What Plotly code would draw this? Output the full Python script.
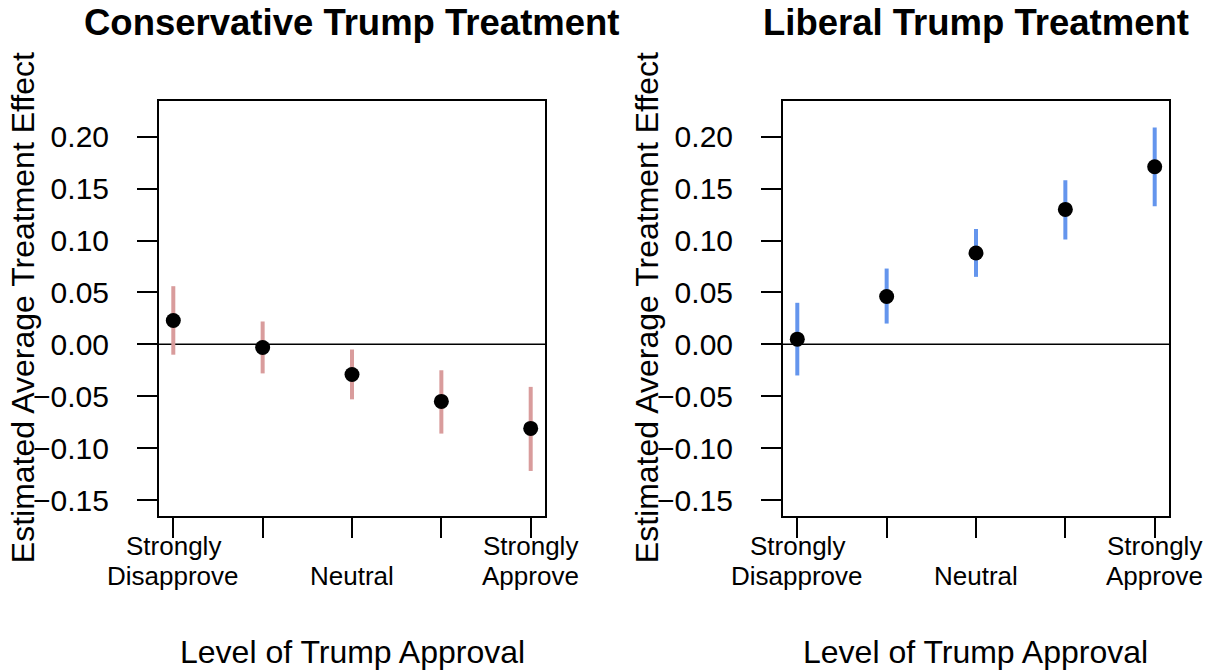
import plotly.graph_objects as go

# ---- data ----
levels = [1, 2, 3, 4, 5]
level_line1 = ["Strongly", "", "", "", "Strongly"]
level_line2 = ["Disapprove", "", "Neutral", "", "Approve"]

cons_est = [0.023, -0.003, -0.029, -0.055, -0.081]
cons_upper = [0.056, 0.022, -0.005, -0.025, -0.041]
cons_lower = [-0.010, -0.028, -0.053, -0.086, -0.122]

lib_est = [0.005, 0.046, 0.088, 0.130, 0.171]
lib_upper = [0.040, 0.073, 0.111, 0.158, 0.209]
lib_lower = [-0.030, 0.020, 0.065, 0.101, 0.133]

y_ticks = [-0.15, -0.10, -0.05, 0.00, 0.05, 0.10, 0.15, 0.20]
y_ticklabels = ["\u22120.15", "\u22120.10", "\u22120.05", "0.00", "0.05", "0.10", "0.15", "0.20"]

panel_titles = ["Conservative Trump Treatment", "Liberal Trump Treatment"]
x_title = "Level of Trump Approval"
y_title = "Estimated Average Treatment Effect"

FONT = "Liberation Sans, Arial, sans-serif"
fig = go.Figure()

panels = [
    ("x", "y", cons_est, cons_upper, cons_lower, "#D99C9C"),
    ("x2", "y2", lib_est, lib_upper, lib_lower, "#6495ED"),
]
for xa, ya, est, up, lo, col in panels:
    fig.add_trace(go.Scatter(
        x=levels, y=est, xaxis=xa, yaxis=ya, mode="markers",
        marker=dict(color="black", size=15, line=dict(width=0)),
        error_y=dict(type="data", symmetric=False,
                     array=[u - e for u, e in zip(up, est)],
                     arrayminus=[e - l for e, l in zip(est, lo)],
                     color=col, thickness=4, width=0),
        showlegend=False, hoverinfo="skip"))

xdoms = [[159/1216, 545/1216], [783/1216, 1169/1216]]
ydom = [1 - 515.7/672, 1 - 100.7/672]

axis_common = dict(showline=True, linecolor="black", linewidth=2, mirror=True,
                   ticks="outside", ticklen=20, tickwidth=2, tickcolor="black",
                   showgrid=False, zeroline=False, automargin=False)

for i, (xn, yn) in enumerate([("xaxis", "yaxis"), ("xaxis2", "yaxis2")]):
    fig.layout[xn] = dict(axis_common, domain=xdoms[i], range=[0.84, 5.16],
                          tickmode="array", tickvals=levels, ticktext=[""] * len(levels),
                          anchor="y" if i == 0 else "y2")
    fig.layout[yn] = dict(axis_common, domain=ydom, range=[-0.1651, 0.2347],
                          tickmode="array", tickvals=y_ticks, ticktext=y_ticklabels,
                          tickfont=dict(family=FONT, size=30, color="black"),
                          anchor="x" if i == 0 else "x2", ticklabelstandoff=22)

# zero lines
for xr, yr in [("x domain", "y"), ("x2 domain", "y2")]:
    fig.add_shape(type="line", xref=xr, yref=yr, x0=0, x1=1, y0=0, y1=0,
                  line=dict(color="black", width=1.5), layer="below")

# category labels (two lines each, under the ticks)
for xr in ["x", "x2"]:
    for lv, l1, l2 in zip(levels, level_line1, level_line2):
        for txt, ypix in [(l1, 546), (l2, 576)]:
            if txt:
                fig.add_annotation(text=txt, xref=xr, yref="paper", x=lv, y=1 - ypix/672,
                                   xanchor="center", yanchor="middle", showarrow=False,
                                   font=dict(family=FONT, size=26, color="black"))

# titles and axis titles
centers = [(xdoms[0][0] + xdoms[0][1]) / 2, (xdoms[1][0] + xdoms[1][1]) / 2]
ylab_x = [23/1216, 647/1216]
for i in range(2):
    fig.add_annotation(text="<b>" + panel_titles[i] + "</b>", xref="paper", yref="paper",
                       x=centers[i], y=1 - 23/672, xanchor="center", yanchor="middle",
                       showarrow=False, font=dict(family=FONT, size=36.5, color="black"))
    fig.add_annotation(text=x_title, xref="paper", yref="paper",
                       x=centers[i], y=1 - 652/672, xanchor="center", yanchor="middle",
                       showarrow=False, font=dict(family=FONT, size=32, color="black"))
    fig.add_annotation(text=y_title, xref="paper", yref="paper",
                       x=ylab_x[i], y=(ydom[0] + ydom[1]) / 2, xanchor="center", yanchor="middle",
                       textangle=-90, showarrow=False,
                       font=dict(family=FONT, size=32, color="black"))

fig.update_layout(width=1216, height=672, margin=dict(l=0, r=0, t=0, b=0),
                  paper_bgcolor="white", plot_bgcolor="white")

fig.write_html("out.html")
